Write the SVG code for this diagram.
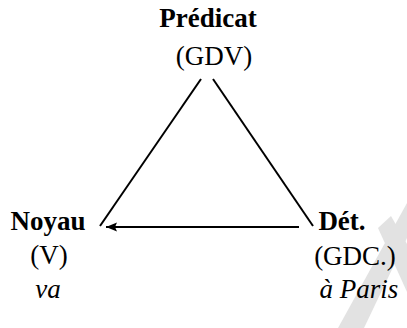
<svg xmlns="http://www.w3.org/2000/svg" width="407" height="328" viewBox="0 0 407 328">
<style>
.t{font-family:'Liberation Serif','Times New Roman',Times,serif;font-size:27px;fill:#000}
.b{font-weight:bold}
.i{font-style:italic}
.ln{stroke:#000;stroke-width:2;fill:none}
</style>
<defs>
<marker id="ah" markerWidth="12" markerHeight="10" refX="11" refY="5" orient="auto" markerUnits="userSpaceOnUse">
<path d="M0,0.5 L11,5 L0,9.5 L2,5 Z" fill="#000"/>
</marker>
</defs>
<rect width="407" height="328" fill="#fff"/>
<g id="watermark" fill="#e2e2e2">
<polygon points="407,203 407,238 364,328 338,328"/>
<polygon points="378,228 391,216 407,244 407,292"/>
</g>
<g id="connectors">
<line class="ln" x1="201" y1="79" x2="100" y2="226"/>
<line class="ln" x1="213" y1="79" x2="313" y2="226"/>
<line class="ln" x1="299" y1="227" x2="106" y2="227" stroke-width="2.6" marker-end="url(#ah)"/>
</g>
<g id="predicat" class="t">
<text class="b" x="208" y="27" text-anchor="middle">Prédicat</text>
<text x="214" y="65" text-anchor="middle">(GDV)</text>
</g>
<g id="noyau" class="t">
<text class="b" x="48" y="230" text-anchor="middle">Noyau</text>
<text x="49" y="264" text-anchor="middle">(V)</text>
<text class="i" x="48" y="298" text-anchor="middle">va</text>
</g>
<g id="det" class="t">
<text class="b" x="342" y="230" text-anchor="middle">Dét.</text>
<text x="355" y="265" text-anchor="middle">(GDC.)</text>
<text class="i" x="359" y="298" text-anchor="middle">à Paris</text>
</g>
</svg>
